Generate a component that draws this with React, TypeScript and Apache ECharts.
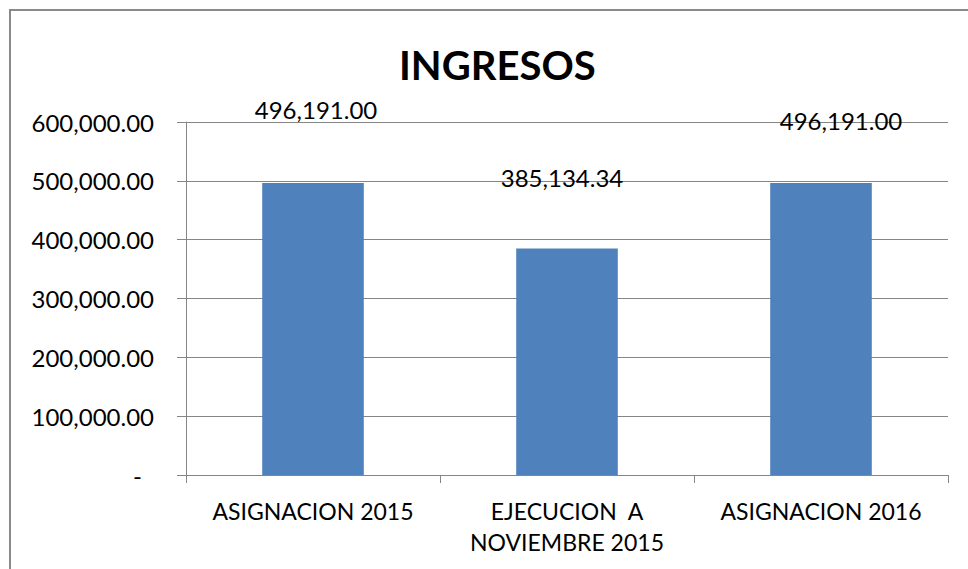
import React, { useEffect, useRef } from "react";
import * as echarts from "echarts";

const categories = ["ASIGNACION 2015", "EJECUCION\u00a0 A\nNOVIEMBRE 2015", "ASIGNACION 2016"];
const values = [496191.0, 385134.34, 496191.0];
const yTicks = [0, 100000, 200000, 300000, 400000, 500000, 600000];
const titleText = "INGRESOS";

const FONT = "Lato, 'Open Sans', sans-serif";

function fmt(v: number): string {
  return v.toLocaleString("en-US", { minimumFractionDigits: 2, maximumFractionDigits: 2 });
}

export default function App() {
  const ref = useRef<HTMLDivElement>(null);
  useEffect(() => {
    if (!ref.current) return;
    const chart = echarts.init(ref.current, null, { renderer: "svg" });
    const labelOffsets = [
      [3, -57],
      [-5, -54],
      [20, -46],
    ];
    chart.setOption({
      animation: false,
      backgroundColor: "#ffffff",
      title: {
        text: titleText,
        left: 394,
        top: 38,
        textStyle: { fontFamily: FONT, fontWeight: "bold", fontSize: 40, color: "#000", lineHeight: 44 },
      },
      graphic: [
        {
          type: "rect",
          shape: { x: 10, y: 10, width: 1000, height: 620 },
          style: { fill: "none", stroke: "#8a8a8a", lineWidth: 2 },
          silent: true,
        },
      ],
      grid: { left: 186, right: 20, top: 122, bottom: 94, containLabel: false },
      xAxis: {
        type: "category",
        data: categories,
        axisLine: { lineStyle: { color: "#868686", width: 1 } },
        axisTick: { show: true, length: 8, lineStyle: { color: "#868686" } },
        axisLabel: {
          interval: 0,
          margin: 20,
          fontFamily: FONT,
          fontSize: 23,
          lineHeight: 31,
          color: "#000",
        },
      },
      yAxis: {
        type: "value",
        min: yTicks[0],
        max: yTicks[yTicks.length - 1],
        interval: yTicks[1] - yTicks[0],
        axisLine: { show: true, lineStyle: { color: "#868686", width: 1 } },
        axisTick: { show: true, length: 9, lineStyle: { color: "#868686" } },
        splitLine: { show: true, lineStyle: { color: "#868686", width: 1 } },
        axisLabel: {
          margin: 32,
          fontFamily: FONT,
          fontSize: 24,
          color: "#000",
          formatter: (v: number) => (v === 0 ? "{dash|-}" : fmt(v)),
          rich: { dash: { padding: [0, 12, 0, 0], fontFamily: FONT, fontSize: 24, color: "#000" } },
        },
      },
      series: [
        {
          type: "bar",
          barCategoryGap: "60%",
          itemStyle: { color: "#4F81BD" },
          data: values.map((v, i) => ({
            value: v,
            label: {
              show: true,
              position: "top",
              distance: 5,
              offset: labelOffsets[i],
              formatter: () => fmt(v),
              fontFamily: FONT,
              fontSize: 24,
              lineHeight: 24,
              color: "#000",
            },
          })),
        },
      ],
    });
    return () => chart.dispose();
  }, []);
  return (
    <div
      ref={ref}
      style={{ position: "fixed", left: 0, top: 0, width: 968, height: 569, background: "#fff" }}
    />
  );
}
